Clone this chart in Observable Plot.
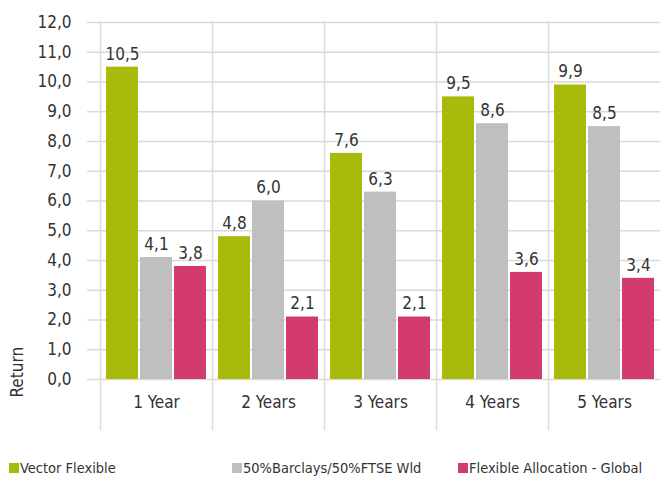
<!DOCTYPE html>
<html>
<head>
<meta charset="utf-8">
<script src="https://cdn.jsdelivr.net/npm/d3@7"></script>
<script src="https://cdn.jsdelivr.net/npm/@observablehq/plot@0.6"></script>
<style>
  body { margin: 0; background: #fff; }
  #chart { width: 662px; font-family: 'DejaVu Sans Condensed', 'DejaVu Sans', sans-serif; font-stretch: condensed; color: #333; }
  .legend { display: flex; padding-left: 9px; margin-top: 13px; font-size: 14.5px; line-height: 20px; white-space: nowrap; }
  .legend .item { display: flex; align-items: center; flex: none; }
  .legend .sw { width: 10px; height: 10px; margin-right: 1px; }
</style>
</head>
<body>
<div id="chart"></div>
<script>
// ---- data ----
const periods = ["1 Year", "2 Years", "3 Years", "4 Years", "5 Years"];
const series = ["Vector Flexible", "50%Barclays/50%FTSE Wld", "Flexible Allocation - Global"];
const vectorFlexible = [10.5, 4.8, 7.6, 9.5, 9.9];
const barclaysFtse = [4.1, 6.0, 6.3, 8.6, 8.5];
const flexibleAllocation = [3.8, 2.1, 2.1, 3.6, 3.4];
const yTicks = [0, 1, 2, 3, 4, 5, 6, 7, 8, 9, 10, 11, 12];
const colors = ["#a8bb0a", "#bfbfbf", "#d33b70"];
const legendWidths = [223, 226, 200];

const seriesValues = [vectorFlexible, barclaysFtse, flexibleAllocation];
const rows = [];
periods.forEach((p, i) => {
  series.forEach((s, j) => rows.push({period: p, series: s, value: seriesValues[j][i]}));
});

const fmt = v => v.toFixed(1).replace(".", ",");
const grid = "#d9d9d9";
const font = "'DejaVu Sans Condensed', 'DejaVu Sans', sans-serif";

const plot = Plot.plot({
  width: 662,
  height: 445,
  marginTop: 22,
  marginLeft: 98,
  marginRight: 0,
  marginBottom: 66,
  style: {fontFamily: font, fontSize: "17px", fontStretch: "condensed", color: "#333", background: "white", overflow: "visible"},
  fx: {domain: periods, padding: 0, axis: null},
  x: {domain: series, paddingInner: 0.05, paddingOuter: 0.16, axis: null},
  y: {domain: [0, 12], axis: null},
  color: {domain: series, range: colors},
  marks: [
    Plot.ruleY(yTicks, {stroke: grid, strokeWidth: 1.4}),
    Plot.frame({anchor: "left", insetBottom: -50, stroke: grid, strokeWidth: 1.4}),
    Plot.axisY({ticks: yTicks, tickSize: 13, tickPadding: 16, stroke: grid, strokeWidth: 1.4, fill: "#333", tickFormat: fmt, label: null}),
    Plot.axisFx({anchor: "bottom", tickSize: 0, tickPadding: 16, label: null, fill: "#333"}),
    Plot.barY(rows, {fx: "period", x: "series", y: "value", fill: "series"}),
    Plot.text(rows, {fx: "period", x: "series", y: "value", text: d => fmt(d.value), dy: -13, fill: "#333"}),
    Plot.text(["Return"], {facet: "super", frameAnchor: "bottom-left", rotate: -90, textAnchor: "start", dx: -78, dy: 18, fill: "#333"})
  ]
});

const root = document.getElementById("chart");
root.appendChild(plot);

const legend = document.createElement("div");
legend.className = "legend";
series.forEach((s, j) => {
  const item = document.createElement("div");
  item.className = "item";
  item.style.width = legendWidths[j] + "px";
  const sw = document.createElement("span");
  sw.className = "sw";
  sw.style.background = colors[j];
  const label = document.createElement("span");
  label.textContent = s;
  item.appendChild(sw);
  item.appendChild(label);
  legend.appendChild(item);
});
root.appendChild(legend);
</script>
</body>
</html>
